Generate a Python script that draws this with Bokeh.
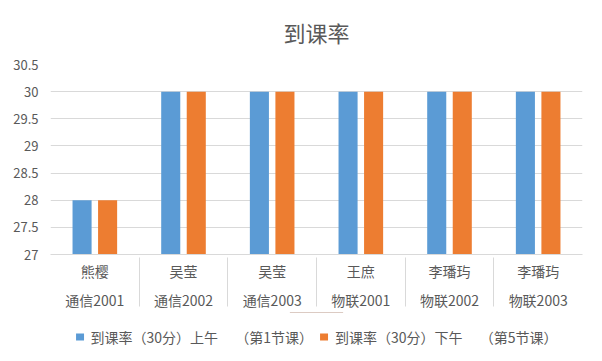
from bokeh.plotting import figure
from bokeh.layouts import column
from bokeh.models import FactorRange, ColumnDataSource, FixedTicker, NumeralTickFormatter, Legend, LegendItem
from bokeh.transform import dodge
from bokeh.embed import file_html
from bokeh.resources import INLINE

names = ["熊樱", "吴莹", "吴莹", "王庶", "李璠玙", "李璠玙"]
classes = ["通信2001", "通信2002", "通信2003", "物联2001", "物联2002", "物联2003"]
am_values = [28, 30, 30, 30, 30, 30]
pm_values = [28, 30, 30, 30, 30, 30]
series_names = ["到课率（30分）上午　 （第1节课）", "到课率（30分）下午　 （第5节课）"]
series_colors = ["#5B9BD5", "#ED7D31"]
y_ticks = [27, 27.5, 28, 28.5, 29, 29.5, 30, 30.5]

FONT = "Noto Sans CJK SC"
TXT = "#595959"
GRID = "#D9D9D9"

factors = list(zip(classes, names))
src = ColumnDataSource(dict(x=factors, am=am_values, pm=pm_values))

xr = FactorRange(*factors, group_padding=0, factor_padding=0, range_padding=0)
p = figure(frame_width=532, frame_height=190, x_range=xr, y_range=(27, 30.5),
           output_backend="svg", toolbar_location=None,
           min_border_left=50, min_border_right=18, min_border_top=64, min_border_bottom=0)
p.outline_line_color = None
p.background_fill_color = "white"

p.title.text = "到课率"
p.title.align = "center"
p.title.vertical_align = "top"
p.title.text_font = FONT
p.title.text_font_size = "22px"
p.title.text_font_style = "normal"
p.title.text_color = TXT
p.title.standoff = 30

p.vbar(x=dodge("x", -0.144, range=xr), top="am", bottom=27, width=0.215, source=src,
       color=series_colors[0], line_color=None)
p.vbar(x=dodge("x", 0.144, range=xr), top="pm", bottom=27, width=0.215, source=src,
       color=series_colors[1], line_color=None)

p.yaxis.ticker = FixedTicker(ticks=y_ticks)
p.yaxis.formatter = NumeralTickFormatter(format="0.[0]")
p.yaxis.axis_line_color = None
p.yaxis.major_tick_line_color = None
p.yaxis.minor_tick_line_color = None
p.yaxis.major_label_text_font = FONT
p.yaxis.major_label_text_font_size = "13px"
p.yaxis.major_label_text_color = TXT
p.yaxis.major_label_standoff = 6

p.ygrid.grid_line_color = GRID
p.xgrid.grid_line_color = None

ax = p.xaxis[0]
ax.axis_line_color = GRID
ax.major_tick_line_color = None
ax.major_tick_out = 0
ax.major_label_text_font = FONT
ax.major_label_text_font_size = "14px"
ax.major_label_text_color = TXT
ax.major_label_standoff = 6
ax.group_text_font = FONT
ax.group_text_font_size = "14px"
ax.group_text_font_style = "normal"
ax.group_text_color = TXT
ax.separator_line_color = GRID
ax.separator_line_width = 1

# legend strip below the chart (proxy renderers lie outside its view range)
q = figure(width=600, height=49, x_range=(0, 1), y_range=(0, 1),
           output_backend="svg", toolbar_location=None,
           x_axis_location=None, y_axis_location=None, min_border=0)
q.outline_line_color = None
q.xgrid.visible = False
q.ygrid.visible = False
proxy = ColumnDataSource(dict(x=[0.5], top=[am_values[0]], bottom=[y_ticks[0]]))
lr = [q.vbar(x="x", top="top", bottom="bottom", width=0.1, source=proxy, color=c, line_color=None)
      for c in series_colors]

legend = Legend(items=[LegendItem(label=series_names[i], renderers=[lr[i]]) for i in range(2)],
                orientation="horizontal", location="center",
                label_text_font=FONT, label_text_font_size="14px", label_text_color=TXT,
                glyph_width=10, glyph_height=9, spacing=6, label_standoff=6, label_height=20,
                border_line_color=None, background_fill_alpha=0, padding=0, margin=0)
q.add_layout(legend, "center")

layout = column(p, q, spacing=0)
open("out.html", "w").write(file_html(layout, INLINE))
